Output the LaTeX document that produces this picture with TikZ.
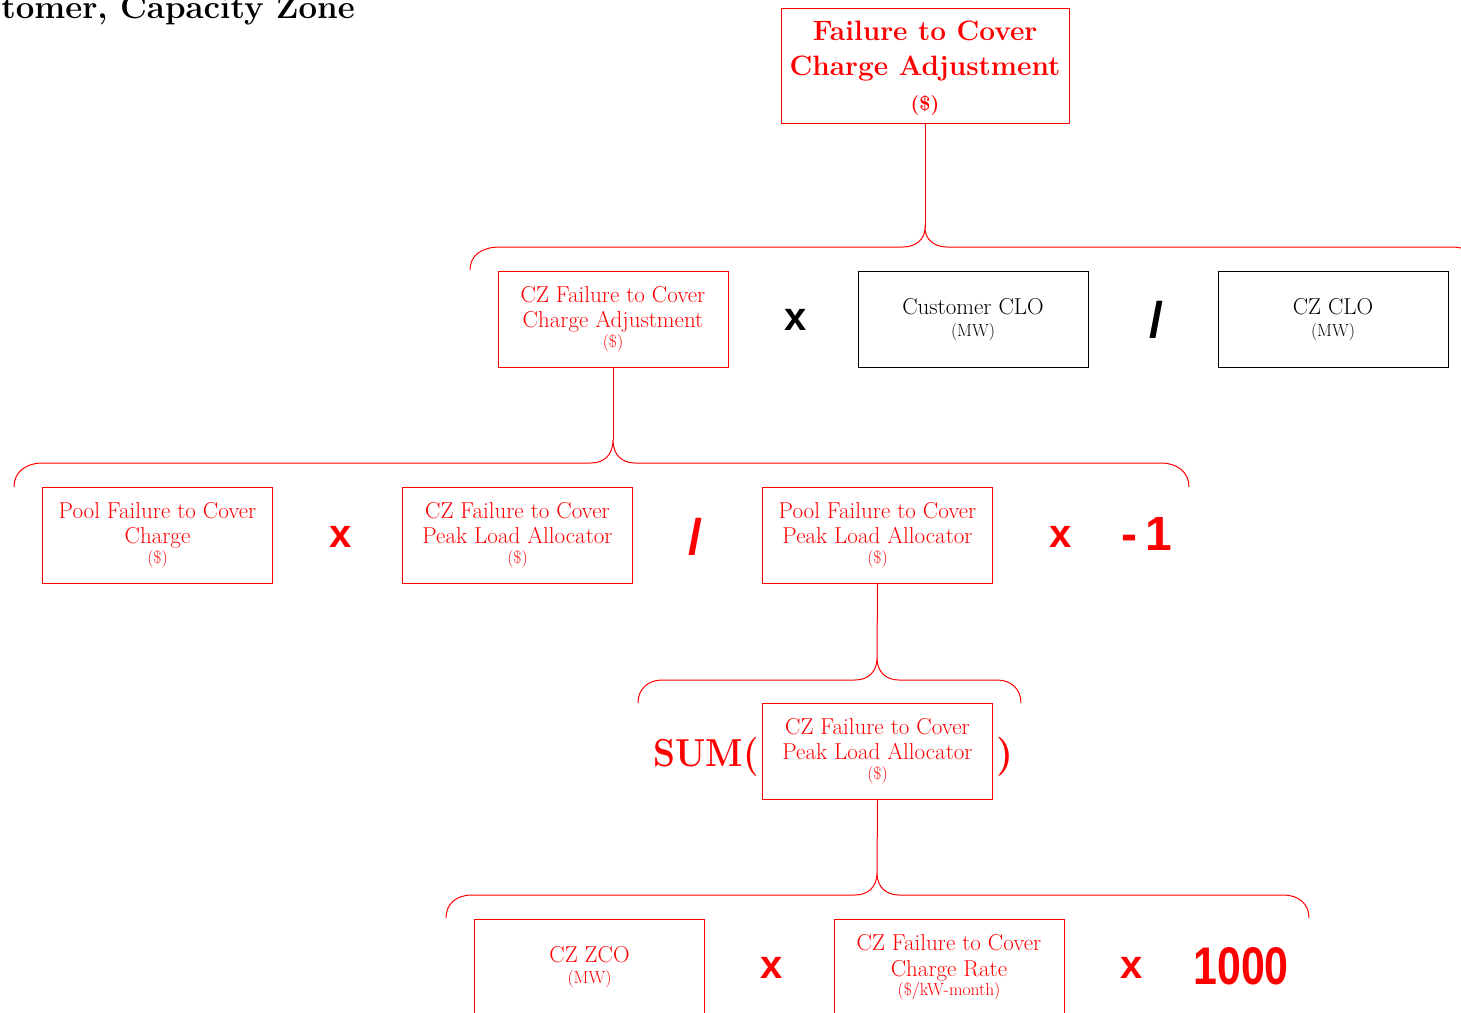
\documentclass[tikz,border=0pt]{standalone}
\usepackage{fontspec}
\setsansfont{Liberation Sans}
\usepackage{graphicx}
\tikzset{
  rbox/.style={draw=red, line width=1pt, minimum width=230pt, minimum height=96pt, inner sep=0pt, align=center, text=red, font=\fontsize{23}{25}\selectfont},
  kbox/.style={rbox, draw=black, text=black},
  brace/.style={draw=red, line width=1pt},
  op/.style={inner sep=0pt, text=red, font=\sffamily\bfseries\fontsize{40}{40}\selectfont},
  kop/.style={op, text=black},
  slash/.style={font=\sffamily\bfseries\fontsize{50}{50}\selectfont},
  bigserif/.style={inner sep=0pt, text=red, font=\bfseries\fontsize{39}{40}\selectfont},
}
\newcommand\smallu[1]{{\fontsize{17.5}{19}\selectfont #1}}
\begin{document}
\begin{tikzpicture}[x=1pt,y=-1pt]
\useasboundingbox (0,0) rectangle (1461,1012);
\clip (0,0) rectangle (1461,1012);

% title (cut off at the page edge, as in the reference)
\node[anchor=base east, inner sep=0pt, font=\bfseries\fontsize{33}{38}\selectfont] (title) at (355,18) {tomer, Capacity Zone};

% top box
\node[rbox, minimum width=288pt, minimum height=115pt, font=\bfseries\fontsize{28}{35}\selectfont] (top) at (925,65.5) {};
\node[inner sep=0pt, align=center, text=red, font=\bfseries\fontsize{28}{35}\selectfont] (toptext) at (925,68) {Failure to Cover\\Charge Adjustment\\{\fontsize{20}{24}\selectfont(\$)}};

% brace 1
\coordinate (t1) at (925,228);
\draw[brace] (470,270) .. controls (470,255) and (482,247) .. (500,247) -- (903,247) .. controls (916,247) and (925,239) .. (t1) .. controls (925,239) and (934,247) .. (947,247) -- (1452,247) .. controls (1468,247) and (1480,255) .. (1480,270);
\draw[brace] (top.south) -- (t1);

% row 1
\node[rbox] (czfa) at (613,319.5) {CZ Failure to Cover\\Charge Adjustment\\[-5pt]\smallu{(\$)}};
\node[kop] (op1) at (796,320) {x};
\node[kbox] (cclo) at (973,319.5) {Customer CLO\\[-3pt]\smallu{(MW)}};
\node[kop, slash] (op2) at (1156,320) {/};
\node[kbox] (czclo) at (1333,319.5) {CZ CLO\\[-3pt]\smallu{(MW)}};

% brace 2
\coordinate (t2) at (613,440);
\draw[brace] (14,487) .. controls (14,472) and (26,463) .. (42,463) -- (591,463) .. controls (604,463) and (613,455) .. (t2) .. controls (613,455) and (622,463) .. (635,463) -- (1161,463) .. controls (1177,463) and (1189,472) .. (1189,487);
\draw[brace] (czfa.south) -- (t2);

% row 2
\node[rbox] (pfc) at (157.5,535) {Pool Failure to Cover\\Charge\\[-5pt]\smallu{(\$)}};
\node[op] (op3) at (341,537) {x};
\node[rbox] (czpla) at (517.5,535) {CZ Failure to Cover\\Peak Load Allocator\\[-5pt]\smallu{(\$)}};
\node[op, slash] (op4) at (695,537) {/};
\node[rbox] (ppla) at (877.5,535) {Pool Failure to Cover\\Peak Load Allocator\\[-5pt]\smallu{(\$)}};
\node[op] (op5) at (1061,537) {x};
\node[op, font=\sffamily\bfseries\fontsize{48}{48}\selectfont] (m1) at (1147,534) {-\,1};

% brace 3
\coordinate (t3) at (877,658);
\draw[brace] (638,703) .. controls (638,689) and (648,680) .. (662,680) -- (855,680) .. controls (868,680) and (877,672) .. (t3) .. controls (877,672) and (886,680) .. (899,680) -- (997,680) .. controls (1011,680) and (1021,689) .. (1021,703);
\draw[brace] (ppla.south) -- (t3);

% row 3
\node[rbox] (czpla2) at (877.5,751) {CZ Failure to Cover\\Peak Load Allocator\\[-5pt]\smallu{(\$)}};
\node[bigserif, anchor=base east] (sum) at (759,766) {\scalebox{0.9}[1]{SUM(}};
\node[bigserif, anchor=base west] (close) at (996,766) {)};

% brace 4
\coordinate (t4) at (877,873);
\draw[brace] (446,918) .. controls (446,904) and (456,895) .. (472,895) -- (855,895) .. controls (868,895) and (877,887) .. (t4) .. controls (877,887) and (886,895) .. (899,895) -- (1283,895) .. controls (1299,895) and (1309,904) .. (1309,918);
\draw[brace] (czpla2.south) -- (t4);

% row 4
\node[rbox] (zco) at (589.5,967) {CZ ZCO\\[-4pt]\smallu{(MW)}};
\node[op] (op6) at (772,968) {x};
\node[rbox] (rate) at (949,967) {CZ Failure to Cover\\[1pt]Charge Rate\\[-6pt]\smallu{(\$/kW-month)}};
\node[op] (op7) at (1132,968) {x};
\node[op, font=\sffamily\bfseries\fontsize{53}{53}\selectfont] (k) at (1241,966) {\scalebox{0.81}[1]{1000}};
\end{tikzpicture}
\end{document}
